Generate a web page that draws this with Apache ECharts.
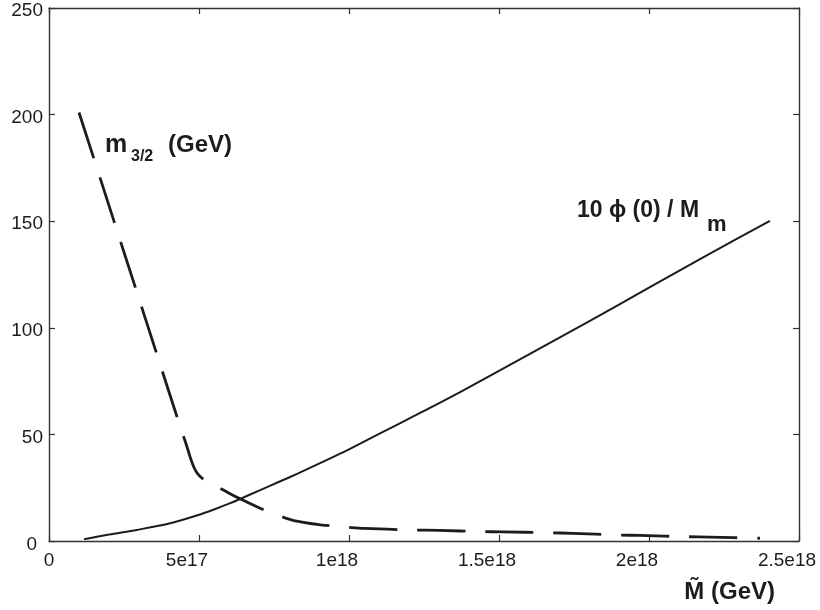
<!DOCTYPE html>
<html>
<head>
<meta charset="utf-8">
<script src="https://cdn.jsdelivr.net/npm/echarts@6/dist/echarts.min.js"></script>
<style>
html,body{margin:0;padding:0;background:#fff;}
#chart{width:820px;height:610px;}
</style>
</head>
<body>
<div id="chart"></div>
<script>
// Tick labels
const xTickLabels = ['0', '5e17', '1e18', '1.5e18', '2e18', '2.5e18'];
const yTickLabels = ['0', '50', '100', '150', '200', '250'];

// m_{3/2} (GeV) — dashed curve
const gravX = [1.00e17, 2.00e17, 3.00e17, 4.00e17, 4.35e17, 4.57e17, 4.70e17, 4.78e17, 4.85e17, 4.93e17, 5.03e17, 5.15e17, 5.40e17, 5.70e17, 6.02e17, 6.37e17, 7.00e17, 7.49e17, 8.16e17, 9.00e17, 9.71e17, 1.05e18, 1.205e18, 1.30e18, 1.44e18, 1.51e18, 1.665e18, 1.745e18, 1.90e18, 1.97e18, 2.13e18, 2.20e18, 2.37e18];
const gravY = [201, 157.3, 113.6, 69.9, 54.6, 45.5, 39.6, 36.4, 34.0, 32.0, 30.4, 29.0, 27.3, 24.8, 22.3, 19.8, 15.6, 12.7, 9.6, 7.7, 6.7, 5.9, 5.2, 5.0, 4.4, 4.3, 3.9, 3.6, 2.8, 2.6, 2.0, 1.8, 1.3];

// 10 phi(0) / M_m — solid curve
const phiX = [1.17e17, 2.0e17, 2.93e17, 4.04e17, 4.98e17, 5.5e17, 6.0e17, 6.37e17, 7.04e17, 7.38e17, 8.0e17, 8.5e17, 9.0e17, 9.5e17, 1.0e18, 1.1e18, 1.2e18, 1.372e18, 1.60e18, 1.80e18, 2.00e18, 2.20e18, 2.403e18];
const phiY = [0.8, 3.0, 5.2, 8.3, 12.2, 14.8, 17.5, 19.7, 23.9, 26.0, 29.8, 33.0, 36.3, 39.6, 43.0, 50.2, 57.4, 70.0, 87.5, 103.0, 118.8, 134.5, 150.2];

const pairs = (xs, ys) => xs.map((x, i) => [x, ys[i]]);

const FONT = '"Liberation Sans", Arial, Helvetica, sans-serif';
const INK = '#1c1c1c';

const chart = echarts.init(document.getElementById('chart'), null, {renderer: 'canvas'});

const axisLine = () => ({show: true, onZero: false, lineStyle: {color: '#333', width: 1.4}});
const axisTick = () => ({show: true, inside: true, length: 6, lineStyle: {color: '#333', width: 1.2}});

const option = {
  backgroundColor: '#ffffff',
  animation: false,
  grid: {left: 49, right: 21, top: 8, bottom: 69, containLabel: false},
  xAxis: [
    {
      type: 'value', min: 0, max: 2.5e18, interval: 5e17, position: 'bottom',
      axisLine: axisLine(), axisTick: axisTick(), splitLine: {show: false},
      axisLabel: {
        show: true, inside: false, margin: 10, color: INK, fontFamily: FONT, fontSize: 19,
        formatter: v => {
          const i = Math.round(v / 5e17);
          return i === 0 ? xTickLabels[i] : '{s|' + xTickLabels[i] + '}';
        },
        rich: {s: {fontFamily: FONT, fontSize: 19, color: INK, padding: [0, 24, 0, 0]}}
      },
      name: 'M\u0303 (GeV)', nameLocation: 'end', nameGap: 0,
      nameTextStyle: {fontFamily: FONT, fontSize: 24, fontWeight: 'bold', color: INK,
        align: 'right', verticalAlign: 'top', padding: [39, 24, 0, 0]}
    },
    {
      type: 'value', min: 0, max: 2.5e18, interval: 5e17, position: 'top',
      axisLine: axisLine(), axisTick: axisTick(), axisLabel: {show: false}, splitLine: {show: false}
    }
  ],
  yAxis: [
    {
      type: 'value', min: 0, max: 250, interval: 50, position: 'left',
      axisLine: axisLine(), axisTick: axisTick(), splitLine: {show: false},
      axisLabel: {
        show: true, inside: false, margin: 6, color: INK, fontFamily: FONT, fontSize: 19,
        formatter: v => {
          const i = Math.round(v / 50);
          return i === 0 ? '{z|' + yTickLabels[i] + '}' : '{s|' + yTickLabels[i] + '}';
        },
        rich: {
          s: {fontFamily: FONT, fontSize: 19, color: INK, padding: [6, 0, 0, 0]},
          z: {fontFamily: FONT, fontSize: 19, color: INK, padding: [8, 6, 0, 0]}
        }
      }
    },
    {
      type: 'value', min: 0, max: 250, interval: 50, position: 'right',
      axisLine: axisLine(), axisTick: axisTick(), axisLabel: {show: false}, splitLine: {show: false}
    }
  ],
  series: [
    {
      name: 'm3/2 (GeV)', type: 'line', xAxisIndex: 0, yAxisIndex: 0,
      data: pairs(gravX, gravY), showSymbol: false, symbol: 'none', smooth: 0.15,
      lineStyle: {color: INK, width: 2.8, type: [48, 20], cap: 'butt', join: 'round'}
    },
    {
      name: '10 phi(0) / Mm', type: 'line', xAxisIndex: 0, yAxisIndex: 0,
      data: pairs(phiX, phiY), showSymbol: false, symbol: 'none', smooth: 0.3,
      lineStyle: {color: INK, width: 2, join: 'round'}
    }
  ],
  graphic: [
    {type: 'text', left: 105, top: 133, style: {text: 'm', fontFamily: FONT, fontSize: 25, fontWeight: 'bold', fill: INK}},
    {type: 'text', left: 131, top: 149, style: {text: '3/2', fontFamily: FONT, fontSize: 16, fontWeight: 'bold', fill: INK}},
    {type: 'text', left: 168, top: 133, style: {text: '(GeV)', fontFamily: FONT, fontSize: 24, fontWeight: 'bold', fill: INK}},
    {type: 'text', left: 577, top: 199, style: {text: '10 \u03d5 (0) / M', fontFamily: FONT, fontSize: 23, fontWeight: 'bold', fill: INK}},
    {type: 'text', left: 707, top: 214, style: {text: 'm', fontFamily: FONT, fontSize: 22, fontWeight: 'bold', fill: INK}}
  ]
};
chart.setOption(option);
</script>
</body>
</html>
